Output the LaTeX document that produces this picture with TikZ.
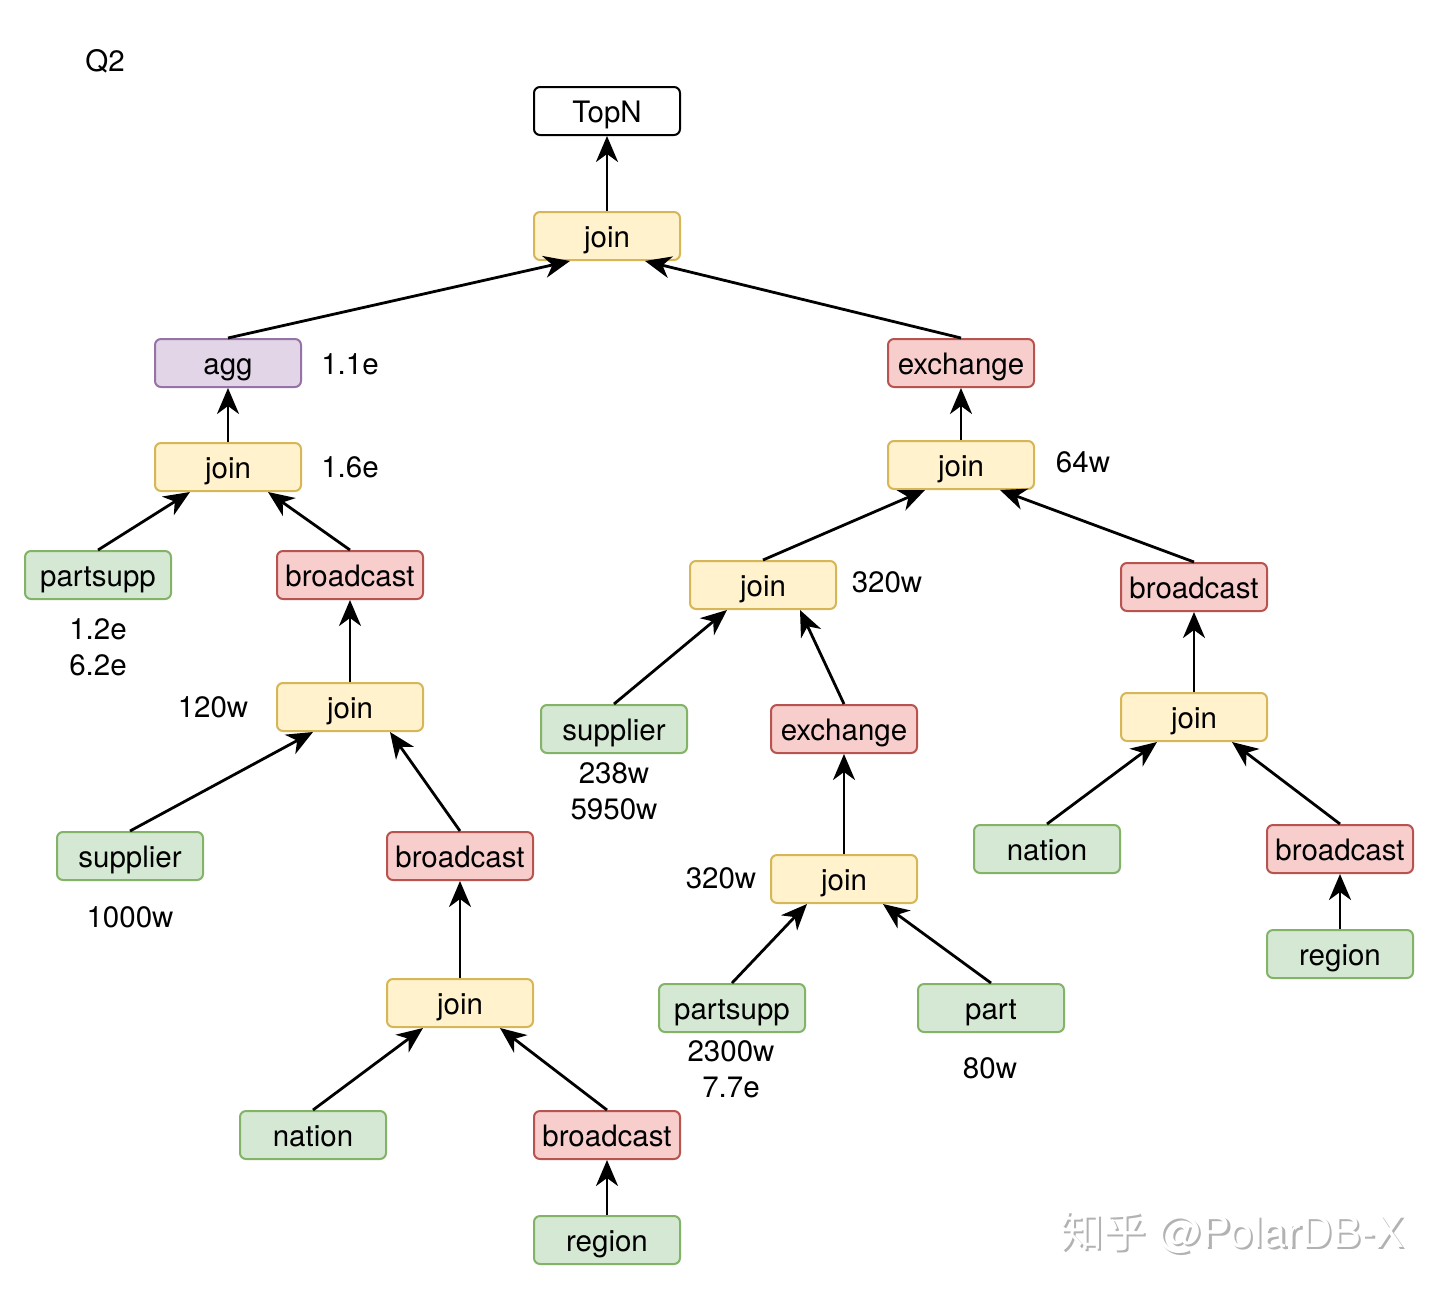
\documentclass[tikz,border=0pt]{standalone}
\usepackage{fontspec}
\setmainfont{TeX Gyre Heros}
\newfontfamily\cjkfont{Noto Sans CJK SC}
\usetikzlibrary{arrows.meta,calc}
\definecolor{yfill}{HTML}{FFF2CC}\definecolor{ydraw}{HTML}{D6B656}
\definecolor{rfill}{HTML}{F8CECC}\definecolor{rdraw}{HTML}{B85450}
\definecolor{gfill}{HTML}{D5E8D4}\definecolor{gdraw}{HTML}{82B366}
\definecolor{pfill}{HTML}{E1D5E7}\definecolor{pdraw}{HTML}{9673A6}
\tikzset{
  box/.style={rectangle,rounded corners=6pt,minimum width=146pt,minimum height=48pt,inner sep=0pt,text height=22pt,text depth=0pt,line width=2pt,font=\fontsize{29.5}{34}\selectfont},
  plain/.style={box,draw=black,fill=white},
  yb/.style={box,draw=ydraw,fill=yfill},
  rb/.style={box,draw=rdraw,fill=rfill},
  gb/.style={box,draw=gdraw,fill=gfill},
  pb/.style={box,draw=pdraw,fill=pfill},
  lab/.style={font=\fontsize{29.5}{34}\selectfont,inner sep=0pt},
  arr/.style={line width=2.8pt,-{Stealth[length=26pt,width=22pt,inset=8pt]}}
}
\begin{document}
\begin{tikzpicture}[x=1pt,y=-1pt]
\useasboundingbox (0,0) rectangle (1440,1291);
% nodes
\node[plain] (topn) at (607,111) {TopN};
\node[yb] (j0) at (607,236) {join};
\node[pb] (agg) at (228,363) {agg};
\node[rb] (ex1) at (961,363) {exchange};
\node[yb] (jl) at (228,467) {join};
\node[yb] (jr) at (961,465) {join};
\node[gb] (ps1) at (98,575) {partsupp};
\node[rb] (bc1) at (350,575) {broadcast};
\node[yb] (j120) at (350,707) {join};
\node[gb] (sup1) at (130,856) {supplier};
\node[rb] (bc2) at (460,856) {broadcast};
\node[yb] (j3) at (460,1003) {join};
\node[gb] (nat1) at (313,1135) {nation};
\node[rb] (bc3) at (607,1135) {broadcast};
\node[gb] (reg1) at (607,1240) {region};
\node[yb] (j320) at (763,585) {join};
\node[rb] (bc4) at (1194,587) {broadcast};
\node[gb] (sup2) at (614,729) {supplier};
\node[rb] (ex2) at (844,729) {exchange};
\node[yb] (j5) at (1194,717) {join};
\node[yb] (j6) at (844,879) {join};
\node[gb] (nat2) at (1047,849) {nation};
\node[rb] (bc5) at (1340,849) {broadcast};
\node[gb] (reg2) at (1340,954) {region};
\node[gb] (ps2) at (732,1008) {partsupp};
\node[gb] (part) at (991,1008) {part};
% labels
\node[lab] (q2) at (105,61) {Q2};
\node[lab] (l1) at (350,364) {1.1e};
\node[lab] (l2) at (350,467) {1.6e};
\node[lab] (l3) at (98,629) {1.2e};
\node[lab] (l4) at (98,665) {6.2e};
\node[lab] (l5) at (213,707) {120w};
\node[lab] (l6) at (130,917) {1000w};
\node[lab] (l7) at (1083,462) {64w};
\node[lab] (l8) at (887,582) {320w};
\node[lab] (l9) at (614,773) {238w};
\node[lab] (l10) at (614,809) {5950w};
\node[lab] (l11) at (721,878) {320w};
\node[lab] (l12) at (731,1051) {2300w};
\node[lab] (l13) at (731,1087) {7.7e};
\node[lab] (l14) at (990,1068) {80w};
% watermark
\node[font=\fontsize{43}{48}\selectfont,text=black!30,inner sep=0pt] (wm0) at (1234.5,1234.5) {{\cjkfont 知乎} @PolarDB-X};
\node[font=\fontsize{43}{48}\selectfont,text=white,inner sep=0pt] (wm) at (1232,1232) {{\cjkfont 知乎} @PolarDB-X};
% edges
\draw[arr] (j0.north) -- (topn.south);
\draw[arr] (agg.north) -- ($(j0.south)+(-37,0)$);
\draw[arr] (ex1.north) -- ($(j0.south)+(38,0)$);
\draw[arr] (jl.north) -- (agg.south);
\draw[arr] (jr.north) -- (ex1.south);
\draw[arr] (ps1.north) -- ($(jl.south)+(-38,0)$);
\draw[arr] (bc1.north) -- ($(jl.south)+(40,0)$);
\draw[arr] (j120.north) -- (bc1.south);
\draw[arr] (sup1.north) -- ($(j120.south)+(-37,0)$);
\draw[arr] (bc2.north) -- ($(j120.south)+(40,0)$);
\draw[arr] (j3.north) -- (bc2.south);
\draw[arr] (nat1.north) -- ($(j3.south)+(-37,0)$);
\draw[arr] (bc3.north) -- ($(j3.south)+(40,0)$);
\draw[arr] (reg1.north) -- (bc3.south);
\draw[arr] (j320.north) -- ($(jr.south)+(-36,0)$);
\draw[arr] (bc4.north) -- ($(jr.south)+(39,0)$);
\draw[arr] (sup2.north) -- ($(j320.south)+(-36,0)$);
\draw[arr] (ex2.north) -- ($(j320.south)+(37,0)$);
\draw[arr] (j6.north) -- (ex2.south);
\draw[arr] (j5.north) -- (bc4.south);
\draw[arr] (nat2.north) -- ($(j5.south)+(-37,0)$);
\draw[arr] (bc5.north) -- ($(j5.south)+(38,0)$);
\draw[arr] (reg2.north) -- (bc5.south);
\draw[arr] (ps2.north) -- ($(j6.south)+(-37,0)$);
\draw[arr] (part.north) -- ($(j6.south)+(39,0)$);
\end{tikzpicture}
\end{document}
